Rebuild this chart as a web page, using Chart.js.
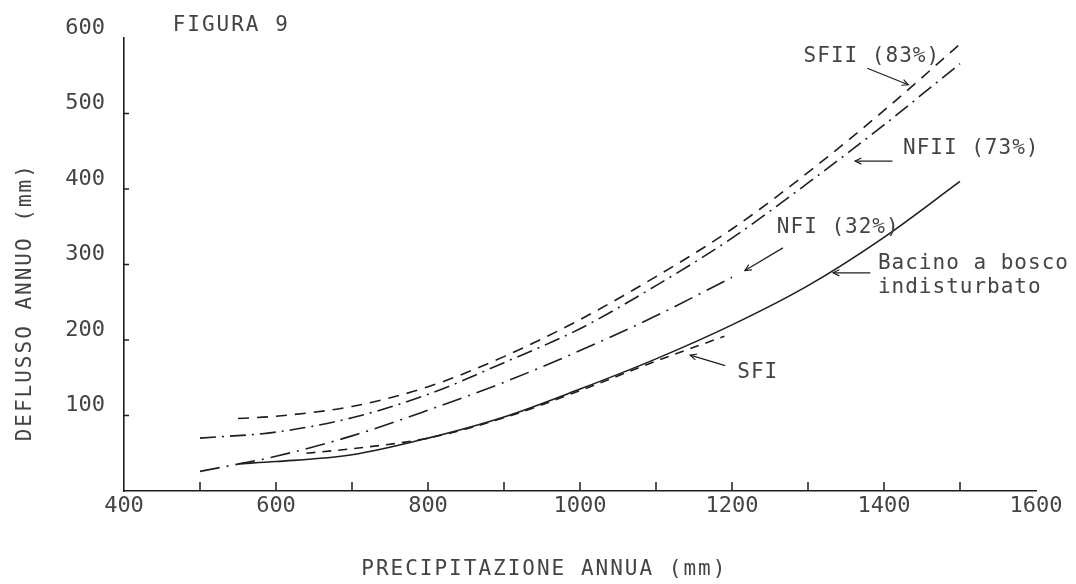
<!DOCTYPE html>
<html>
<head>
<meta charset="utf-8">
<script src="https://cdn.jsdelivr.net/npm/chart.js@4.4.1/dist/chart.umd.min.js"></script>
<style>
  html, body { margin: 0; padding: 0; background: #fff; }
</style>
</head>
<body>
<canvas id="chart" width="1076" height="584"></canvas>
<script>
// Figura 9 - deflusso annuo vs precipitazione annua

const FONT = '"DejaVu Sans Mono", monospace';
const INK = "#1e1e1e";
const TEXT = "#444444";

// --- data (mm) -------------------------------------------------------------
const bacinoX = [550, 600, 700, 800, 900, 1000, 1100, 1200, 1300, 1400, 1500];
const bacinoY = [36, 39, 48, 70, 98, 135, 175, 220, 272, 336, 410];

const sfiX = [640, 700, 800, 900, 1000, 1100, 1190];
const sfiY = [50, 56, 70, 97, 133, 172, 205];

const nfiX = [500, 600, 700, 800, 900, 1000, 1100, 1200];
const nfiY = [26, 46, 73, 107, 144, 186, 232, 283];

const nfiiX = [500, 600, 700, 800, 900, 1000, 1100, 1200, 1300, 1400, 1500];
const nfiiY = [70, 78, 97, 128, 170, 215, 272, 335, 408, 485, 566];

const sfiiX = [550, 600, 700, 800, 900, 1000, 1100, 1200, 1300, 1400, 1500];
const sfiiY = [96, 99, 112, 138, 178, 227, 284, 347, 422, 504, 592];

// axis ticks
const xMinorTicks = [500, 600, 700, 800, 900, 1000, 1100, 1200, 1300, 1400, 1500];
const yMinorTicks = [100, 200, 300, 400, 500];

// curve labels (data coords) and their arrows
const curveLabels = [
  { lines: ["SFII (83%)"], x: 1384, y: 575, align: "center" },
  { lines: ["NFII (73%)"], x: 1425, y: 454, align: "left" },
  { lines: ["NFI (32%)"], x: 1259, y: 349, align: "left" },
  { lines: ["Bacino a bosco", "indisturbato"], x: 1392, y: 301, align: "left" },
  { lines: ["SFI"], x: 1207, y: 157, align: "left" },
];
const arrows = [
  { from: [1378, 560], to: [1432, 538] },
  { from: [1411, 437], to: [1362, 437] },
  { from: [1267, 322], to: [1217, 292] },
  { from: [1382, 289], to: [1333, 289] },
  { from: [1191, 166], to: [1145, 180] },
];

// --- helpers ---------------------------------------------------------------
function points(xs, ys) {
  return xs.map((v, i) => ({ x: v, y: ys[i] }));
}

function curve(data, dash) {
  return {
    data: data,
    borderColor: INK,
    borderWidth: 1.6,
    borderDash: dash,
    pointRadius: 0,
    fill: false,
    cubicInterpolationMode: "monotone",
  };
}

function arrowHead(ctx, x0, y0, x1, y1) {
  const a = Math.atan2(y1 - y0, x1 - x0);
  const len = 7;
  ctx.beginPath();
  ctx.moveTo(x1 - len * Math.cos(a - 0.45), y1 - len * Math.sin(a - 0.45));
  ctx.lineTo(x1, y1);
  ctx.lineTo(x1 - len * Math.cos(a + 0.45), y1 - len * Math.sin(a + 0.45));
  ctx.stroke();
}

// --- plugin: inner ticks, labels, arrows, titles --------------------------
const decor = {
  id: "decor",
  afterDraw(chart) {
    const { ctx, scales } = chart;
    const x = scales.x;
    const y = scales.y;
    ctx.save();

    // tick marks pointing into the plot
    ctx.strokeStyle = INK;
    ctx.lineWidth = 1.5;
    xMinorTicks.forEach((v) => {
      const px = x.getPixelForValue(v);
      ctx.beginPath();
      ctx.moveTo(px, y.bottom);
      ctx.lineTo(px, y.bottom - 9);
      ctx.stroke();
    });
    yMinorTicks.forEach((v) => {
      const py = y.getPixelForValue(v);
      ctx.beginPath();
      ctx.moveTo(x.left, py);
      ctx.lineTo(x.left + 5, py);
      ctx.stroke();
    });

    // arrows
    ctx.lineWidth = 1.2;
    arrows.forEach((a) => {
      const x0 = x.getPixelForValue(a.from[0]);
      const y0 = y.getPixelForValue(a.from[1]);
      const x1 = x.getPixelForValue(a.to[0]);
      const y1 = y.getPixelForValue(a.to[1]);
      ctx.beginPath();
      ctx.moveTo(x0, y0);
      ctx.lineTo(x1, y1);
      ctx.stroke();
      arrowHead(ctx, x0, y0, x1, y1);
    });

    // text
    ctx.fillStyle = TEXT;
    ctx.textBaseline = "middle";
    ctx.font = "21px " + FONT;
    ctx.letterSpacing = "1px";
    curveLabels.forEach((l) => {
      ctx.textAlign = l.align;
      const px = x.getPixelForValue(l.x);
      const py = y.getPixelForValue(l.y);
      l.lines.forEach((t, i) => ctx.fillText(t, px, py + i * 24));
    });

    ctx.letterSpacing = "2px";
    ctx.textAlign = "left";
    ctx.fillText("FIGURA 9", x.getPixelForValue(464), y.getPixelForValue(616));

    ctx.textAlign = "center";
    ctx.fillText("PRECIPITAZIONE ANNUA (mm)", x.getPixelForValue(953), 570);

    ctx.translate(26, y.getPixelForValue(250));
    ctx.rotate(-Math.PI / 2);
    ctx.fillText("DEFLUSSO ANNUO (mm)", 0, 0);

    ctx.restore();
  },
};

// --- chart -----------------------------------------------------------------
new Chart(document.getElementById("chart"), {
  type: "line",
  data: {
    datasets: [
      curve(points(sfiiX, sfiiY), [11, 8]),
      curve(points(nfiiX, nfiiY), [16, 6, 2, 6]),
      curve(points(nfiX, nfiY), [20, 7, 2, 7]),
      curve(points(bacinoX, bacinoY), []),
      curve(points(sfiX, sfiY), [9, 7]),
    ],
  },
  options: {
    responsive: false,
    animation: false,
    layout: {
      autoPadding: false,
      padding: { top: 38, right: 40, left: 0, bottom: 0 },
    },
    plugins: {
      legend: { display: false },
      tooltip: { enabled: false },
    },
    scales: {
      x: {
        type: "linear",
        min: 400,
        max: 1600,
        afterFit: (s) => { s.height = 93; },
        grid: { display: false, drawTicks: false },
        border: { display: true, color: INK, width: 1.6 },
        ticks: {
          stepSize: 200,
          padding: 2,
          maxRotation: 0,
          color: TEXT,
          font: { family: FONT, size: 22 },
          callback: (v) => String(v),
        },
      },
      y: {
        min: 0,
        max: 600,
        afterFit: (s) => { s.width = 124; },
        grid: { display: false, drawTicks: false },
        border: { display: true, color: INK, width: 1.6 },
        ticks: {
          stepSize: 100,
          padding: 19,
          labelOffset: -10,
          color: TEXT,
          font: { family: FONT, size: 22 },
          callback: (v) => (v === 0 ? "" : String(v)),
        },
      },
    },
  },
  plugins: [decor],
});
</script>
</body>
</html>
